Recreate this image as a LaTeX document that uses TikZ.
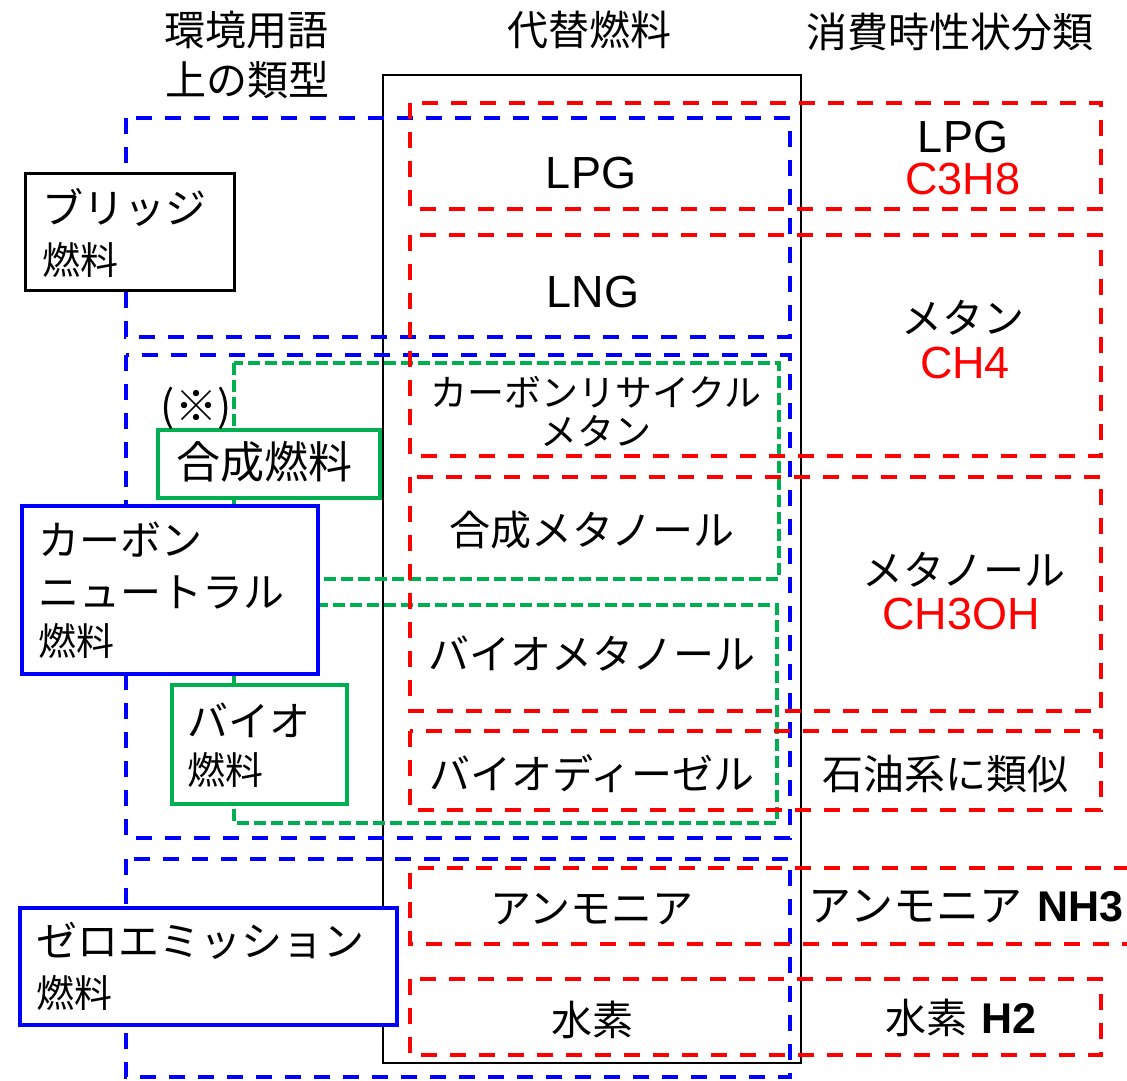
\documentclass[tikz,border=0pt]{standalone}
\usepackage{fontspec}
\setmainfont{Liberation Sans}
\newfontfamily\jp{Noto Sans CJK JP}
\newcommand{\myfs}[1]{\fontsize{#1}{#1}\selectfont}
\definecolor{cgreen}{RGB}{0,176,80}
\begin{document}
\begin{tikzpicture}[x=1pt,y=-1pt,
  frame/.style={draw=black, line width=1.8pt},
  bdash/.style={draw=blue, line width=4pt, dash pattern=on 16pt off 13pt},
  rdash/.style={draw=red, line width=4pt, dash pattern=on 16pt off 13pt},
  gdash/.style={draw=cgreen, line width=3.3pt, dash pattern=on 12pt off 5pt},
  sbox/.style={draw=#1, line width=4pt, fill=white, inner sep=0pt, anchor=north west},
  txt/.style={inner sep=0pt, font=\jp\myfs{41}},
  lat/.style={inner sep=0pt, font=\myfs{45}},
  sub/.style={inner sep=0pt, font=\jp\myfs{38}, anchor=west}]
\useasboundingbox (0,0) rectangle (1127,1081);

% headers
\node[txt] (h1a) at (246,30) {環境用語};
\node[txt] (h1b) at (247,80) {上の類型};
\node[txt] (h2) at (589,30) {代替燃料};
\node[txt] (h3) at (950,32) {消費時性状分類};

% black frame
\draw[frame] (383,75) rectangle (801,1063);

% green dashed groups
\draw[gdash] (234,363) rectangle (779,579);
\draw[gdash] (234,605) rectangle (777,823);

% blue dashed groups
\draw[bdash] (126,118) rectangle (790,337);
\draw[bdash] (126,355) rectangle (790,838);
\draw[bdash] (126,859) rectangle (790,1077);

% red dashed groups
\draw[rdash] (410,103) rectangle (1101,209);
\draw[rdash] (410,235) rectangle (1101,456);
\draw[rdash] (410,477) rectangle (1101,711);
\draw[rdash] (410,731) rectangle (1101,810);
\draw[rdash] (1130,868) -- (410,868) -- (410,944) -- (1130,944);
\draw[rdash] (410,979) rectangle (1101,1055);

% left solid boxes
\node[sbox=black, line width=3.2pt, minimum width=209pt, minimum height=117pt] (bridge) at (24,172) {};
\node[sbox=cgreen, line width=3.5pt, minimum width=222pt, minimum height=68pt] (gosei) at (156,428) {};
\node[sbox=blue, minimum width=296pt, minimum height=168pt] (cn) at (20,504) {};
\node[sbox=cgreen, line width=3.5pt, minimum width=175pt, minimum height=119pt] (bio) at (170,683) {};
\node[sbox=blue, minimum width=377pt, minimum height=117pt] (zero) at (18,906) {};

% left texts
\node[txt, anchor=west] (bridgeA) at (42,207) {ブリッジ};
\node[sub] (bridgeB) at (42,260) {燃料};
\node[inner sep=0pt, font=\jp\myfs{42}] (note) at (196,408) {(※)};
\node[inner sep=0pt, font=\jp\myfs{44}] (goseiT) at (264,462) {合成燃料};
\node[txt, anchor=west] (cnA) at (38,540) {カーボン};
\node[txt, anchor=west] (cnB) at (38,592) {ニュートラル};
\node[sub] (cnC) at (38,641) {燃料};
\node[txt, anchor=west] (bioA) at (187,720) {バイオ};
\node[sub] (bioB) at (187,770) {燃料};
\node[txt, anchor=west] (zeroA) at (36,941) {ゼロエミッション};
\node[sub] (zeroB) at (36,993) {燃料};

% middle column
\node[lat] (mLPG) at (591,173) {LPG};
\node[lat] (mLNG) at (593,292) {LNG};
\node[inner sep=0pt, font=\jp\myfs{37}] (mCR1) at (596,392) {カーボンリサイクル};
\node[inner sep=0pt, font=\jp\myfs{37}] (mCR2) at (596,431) {メタン};
\node[txt] (mGM) at (592,530) {合成メタノール};
\node[txt] (mBM) at (592,654) {バイオメタノール};
\node[txt] (mBD) at (592,774) {バイオディーゼル};
\node[txt] (mAM) at (592,909) {アンモニア};
\node[txt] (mH2) at (592,1020) {水素};

% right column
\node[lat] (rLPG) at (963,137) {LPG};
\node[lat, text=red] (rC3H8) at (963,179) {C3H8};
\node[txt] (rMT) at (963,318) {メタン};
\node[lat, text=red] (rCH4) at (965,363) {CH4};
\node[txt] (rML) at (964,570) {メタノール};
\node[lat, text=red] (rCH3OH) at (961,614) {CH3OH};
\node[txt] (rSY) at (945,774) {石油系に類似};
\node[inner sep=0pt, font=\myfs{43}] (rNH3) at (966,907) {{\jp アンモニア}\hspace{15pt}{\bfseries NH3}};
\node[inner sep=0pt, font=\myfs{43}] (rH2) at (961,1018) {{\jp\myfs{41}水素}\hspace{14pt}{\bfseries H2}};
\end{tikzpicture}
\end{document}
